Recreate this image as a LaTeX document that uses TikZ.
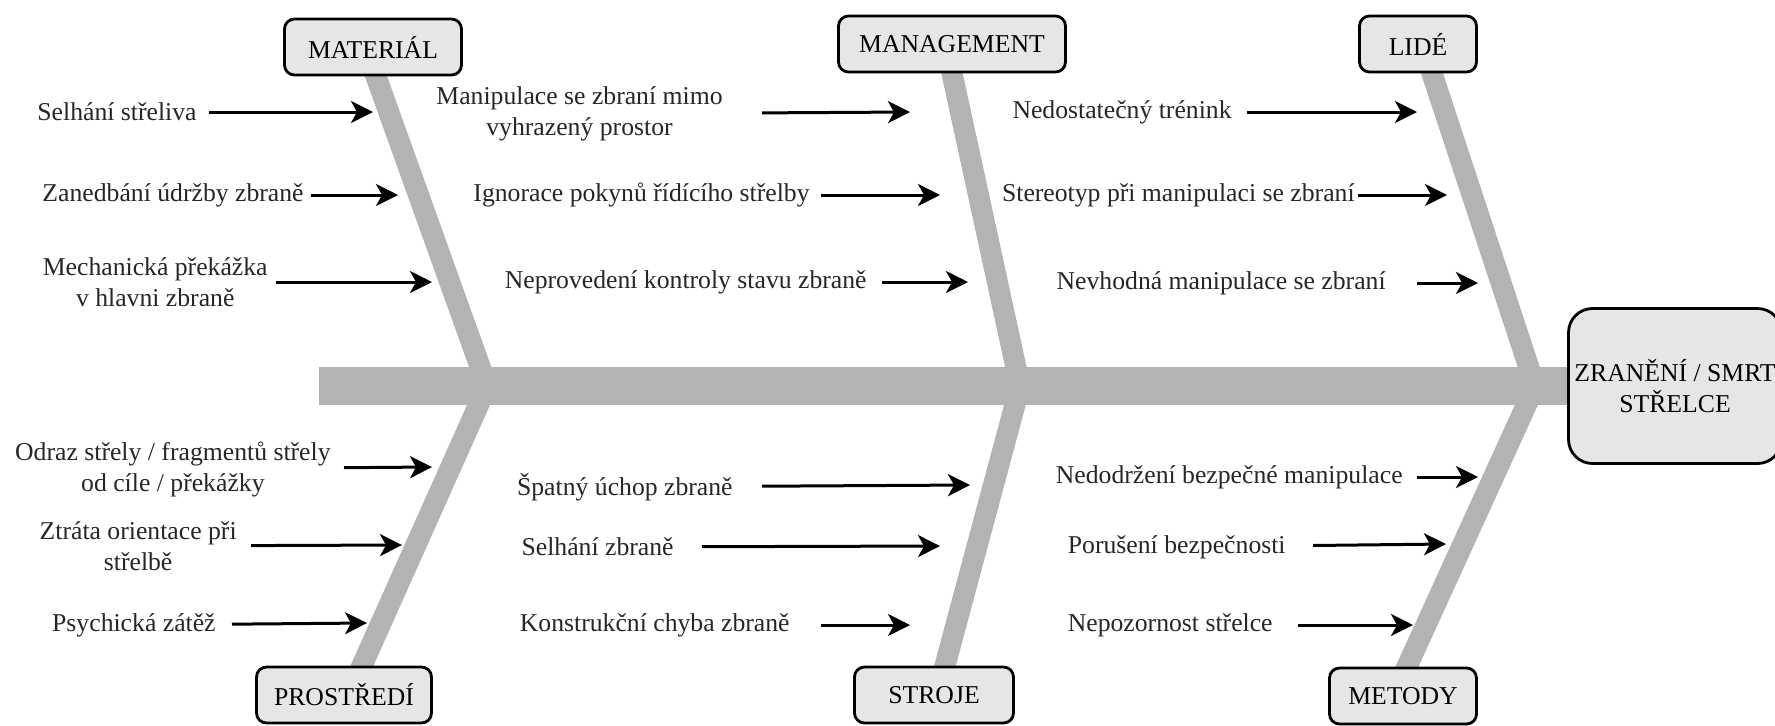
\documentclass[tikz,border=0pt]{standalone}
\usepackage{fontspec}
\setmainfont{Liberation Serif}
\usepackage{tikz}
\usetikzlibrary{arrows.meta}
\usetikzlibrary{backgrounds}

\definecolor{boxgray}{RGB}{230,230,230}
\definecolor{bonegray}{RGB}{179,179,179}

\tikzset{
	category/.style={draw=black, line width=1.4pt, rounded corners=5pt, fill=boxgray, minimum height=28pt, inner sep=0pt},
	cause/.style={anchor=east, inner sep=0pt, align=center, text=black!85},
	bone/.style={draw=bonegray, line width=10.5pt},
	spine/.style={draw=bonegray, line width=19pt},
	arr/.style={-{Stealth[length=11pt, width=11pt, inset=3pt]}, line width=1.5pt}
}

\begin{document}
\begin{tikzpicture}[x=0.5pt, y=-0.5pt, font=\fontsize{12.85}{15.5}\selectfont]
\useasboundingbox (0,0) rectangle (1775,725);

% categories and effect
\node[category, minimum width=88.5pt] (mat) at (373,47) {MATERIÁL};
\node[category, minimum width=113.5pt] (mgmt) at (952,44) {MANAGEMENT};
\node[category, minimum width=58.5pt] (lide) at (1418,44) {LIDÉ};
\node[category, minimum width=87.5pt] (env) at (344,695) {PROSTŘEDÍ};
\node[category, minimum width=79.5pt] (str) at (934,695) {STROJE};
\node[category, minimum width=73.5pt] (met) at (1403,696) {METODY};
\node[category, rounded corners=12pt, minimum width=106.5pt, minimum height=77.5pt, align=center] (effect) at (1675,386) {ZRANĚNÍ / SMRT\\STŘELCE};

\coordinate (tail) at (319,386);
\coordinate (j1) at (487,386);
\coordinate (j2) at (1020,386);
\coordinate (j3) at (1535,386);

% fish bones
\begin{scope}[on background layer]
\draw[spine] (tail) -- (effect.west);
\draw[bone, shorten <=-4pt] ([xshift=1.5pt]mat.south) -- (j1);
\draw[bone, shorten <=-4pt] (mgmt.south) -- (j2);
\draw[bone, shorten <=-4pt] ([xshift=7pt]lide.south) -- (j3);
\draw[bone, shorten <=-4pt] ([xshift=9pt]env.north) -- (j1);
\draw[bone, shorten <=-4pt] ([xshift=5.5pt]str.north) -- (j2);
\draw[bone, shorten <=-4pt] ([xshift=2pt]met.north) -- (j3);
\end{scope}

% MATERIÁL
\node[cause] (c1) at (197,112) {Selhání střeliva};
\node[cause] (c2) at (304,195) {Zanedbání údržby zbraně};
\node[cause] (c3) at (268,282) {Mechanická překážka\\v hlavni zbraně};
\coordinate (e1) at (373,112);
\coordinate (e2) at (398,195);
\coordinate (e3) at (432,282);
\path[arr]
(c1) edge[shorten <=6pt] (e1)
(c2) edge[shorten <=3.5pt] (e2)
(c3) edge[shorten <=4pt] (e3);

% MANAGEMENT
\node[cause] (c4) at (723,114) {Manipulace se zbraní mimo\\vyhrazený prostor};
\node[cause] (c5) at (810,195) {Ignorace pokynů řídícího střelby};
\node[cause] (c6) at (867,282) {Neprovedení kontroly stavu zbraně};
\coordinate (e4) at (910,112);
\coordinate (e5) at (940,195);
\coordinate (e6) at (968,282);
\path[arr]
(c4) edge[shorten <=19.5pt] (e4)
(c5) edge[shorten <=5.5pt] (e5)
(c6) edge[shorten <=7.5pt] (e6);

% LIDÉ
\node[cause] (c7) at (1232,112) {Nedostatečný trénink};
\node[cause] (c8) at (1355,195) {Stereotyp při manipulaci se zbraní};
\node[cause] (c9) at (1386,283) {Nevhodná manipulace se zbraní};
\coordinate (e7) at (1417,112);
\coordinate (e8) at (1447,195);
\coordinate (e9) at (1478,283);
\path[arr]
(c7) edge[shorten <=7.5pt] (e7)
(c8) edge[shorten <=1.5pt] (e8)
(c9) edge[shorten <=15.5pt] (e9);

% PROSTŘEDÍ
\node[cause] (c10) at (331,469) {Odraz střely / fragmentů střely\\od cíle / překážky};
\node[cause] (c11) at (237,546) {Ztráta orientace při\\střelbě};
\node[cause] (c12) at (216,625) {Psychická zátěž};
\coordinate (e10) at (432,467);
\coordinate (e11) at (402,545);
\coordinate (e12) at (367,623);
\path[arr]
(c10) edge[shorten <=6.5pt] (e10)
(c11) edge[shorten <=7pt] (e11)
(c12) edge[shorten <=8pt] (e12);

% STROJE
\node[cause] (c13) at (733,487) {Špatný úchop zbraně};
\node[cause] (c14) at (674,547) {Selhání zbraně};
\node[cause] (c15) at (790,625) {Konstrukční chyba zbraně};
\coordinate (e13) at (970,485);
\coordinate (e14) at (940,546);
\coordinate (e15) at (910,625);
\path[arr]
(c13) edge[shorten <=14.5pt] (e13)
(c14) edge[shorten <=14pt] (e14)
(c15) edge[shorten <=15.5pt] (e15);

% METODY
\node[cause] (c16) at (1403,477) {Nedodržení bezpečné manipulace};
\node[cause] (c17) at (1286,547) {Porušení bezpečnosti};
\node[cause] (c18) at (1273,625) {Nepozornost střelce};
\coordinate (e16) at (1478,477);
\coordinate (e17) at (1446,544);
\coordinate (e18) at (1413,625);
\path[arr]
(c16) edge[shorten <=7pt] (e16)
(c17) edge[shorten <=13.5pt] (e17)
(c18) edge[shorten <=12.5pt] (e18);
\end{tikzpicture}
\end{document}
